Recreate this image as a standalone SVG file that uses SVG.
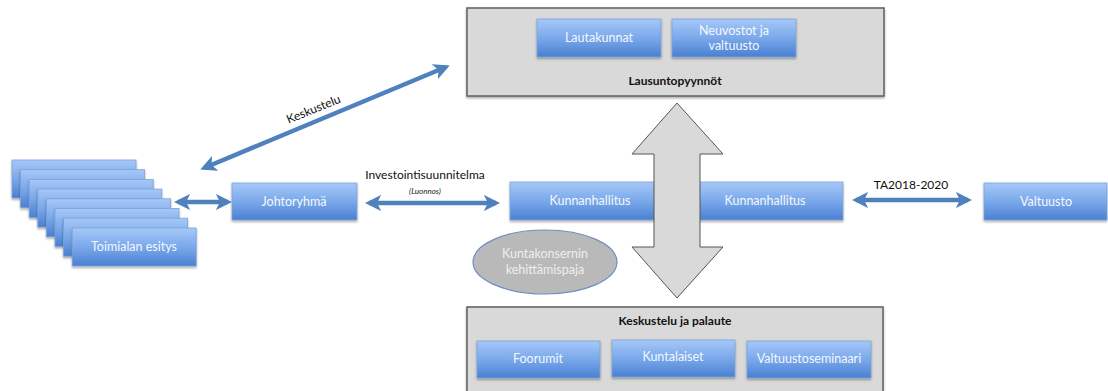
<svg xmlns="http://www.w3.org/2000/svg" width="1108" height="391" viewBox="0 0 1108 391">
<defs>
<linearGradient id="blue" x1="0" y1="0" x2="0" y2="1">
<stop offset="0" stop-color="#a6c8f8"/>
<stop offset="0.5" stop-color="#7aa8ea"/>
<stop offset="1" stop-color="#4a80d2"/>
</linearGradient>
<filter id="sh" x="-10%" y="-10%" width="120%" height="140%">
<feDropShadow dx="0" dy="1.5" stdDeviation="1" flood-color="#000" flood-opacity="0.35"/>
</filter>
<marker id="ah" viewBox="0 0 12 12" refX="9" refY="6" markerWidth="3.6" markerHeight="3.6" orient="auto-start-reverse" markerUnits="strokeWidth">
<path d="M0,0 L12,6 L0,12 L3,6 z" fill="#4f81bd"/>
</marker>
</defs>
<style>
.b{fill:url(#blue);stroke:#7ea3d6;stroke-width:0.8;filter:url(#sh)}
.g{fill:#d9d9d9;stroke:#5f5f5f;stroke-width:1.5;filter:url(#sh)}
.w{font-family:Lato,"Open Sans",sans-serif;font-size:12.5px;fill:#f4f8ff;text-anchor:middle}
.e{font-family:Lato,"Open Sans",sans-serif;font-size:12.5px;fill:#eeeeee;text-anchor:middle}
.k{font-family:Lato,"Open Sans",sans-serif;font-size:12px;fill:#111;text-anchor:middle}
.kb{font-family:Lato,"Open Sans",sans-serif;font-size:12px;font-weight:bold;fill:#111;text-anchor:middle}
.i{font-family:Lato,"Open Sans",sans-serif;font-size:8px;font-style:italic;fill:#222;text-anchor:middle}
.c{fill:none;stroke:#4f81bd;stroke-width:4.5;marker-start:url(#ah);marker-end:url(#ah)}
</style>
<rect width="1108" height="391" fill="#fff"/>

<g id="lausunto">
<rect class="g" x="467" y="8" width="417" height="88"/>
<text class="kb" x="675" y="85">Lausuntopyynnöt</text>
</g>
<g id="lautakunnat">
<rect class="b" x="537" y="19" width="124" height="38"/>
<text class="w" x="599" y="42">Lautakunnat</text>
</g>
<g id="neuvostot">
<rect class="b" x="672" y="19" width="124" height="38"/>
<text class="w" x="734" y="35">Neuvostot ja</text>
<text class="w" x="734" y="50">valtuusto</text>
</g>

<g id="palaute">
<rect class="g" x="467" y="307" width="416" height="95"/>
<text class="kb" x="675" y="325">Keskustelu ja palaute</text>
</g>
<g id="foorumit">
<rect class="b" x="477" y="341" width="123" height="37"/>
<text class="w" x="538" y="363">Foorumit</text>
</g>
<g id="kuntalaiset">
<rect class="b" x="612" y="340" width="123" height="37"/>
<text class="w" x="673" y="361">Kuntalaiset</text>
</g>
<g id="valtuustoseminaari">
<rect class="b" x="747" y="341" width="124" height="37"/>
<text class="w" x="809" y="363">Valtuustoseminaari</text>
</g>

<g id="toimialat">
<rect class="b" x="12" y="160" width="124" height="38"/>
<rect class="b" x="20.6" y="169.7" width="124" height="38"/>
<rect class="b" x="29.2" y="179.4" width="124" height="38"/>
<rect class="b" x="37.8" y="189.1" width="124" height="38"/>
<rect class="b" x="46.4" y="198.8" width="124" height="38"/>
<rect class="b" x="55" y="208.5" width="124" height="38"/>
<rect class="b" x="63.6" y="218.2" width="124" height="38"/>
<rect class="b" x="72.2" y="228" width="124" height="38"/>
<text class="w" x="134" y="251">Toimialan esitys</text>
</g>

<g id="johtoryhma">
<rect class="b" x="232" y="183" width="125" height="37"/>
<text class="w" x="294" y="206">Johtoryhmä</text>
</g>

<g id="kunnanhallitus1">
<rect class="b" x="510" y="182" width="160" height="38"/>
<text class="w" x="590" y="205">Kunnanhallitus</text>
</g>
<g id="kunnanhallitus2">
<rect class="b" x="686" y="182" width="157" height="38"/>
<text class="w" x="765" y="205">Kunnanhallitus</text>
</g>

<g id="valtuusto">
<rect class="b" x="984" y="183" width="123" height="37"/>
<text class="w" x="1046" y="206">Valtuusto</text>
</g>

<g id="paja">
<ellipse cx="545" cy="262" rx="72" ry="32" fill="#b9b9b9" stroke="#6f8fc0" stroke-width="1.2"/>
<text class="e" x="545" y="258">Kuntakonsernin</text>
<text class="e" x="545" y="274">kehittämispaja</text>
</g>

<g id="connectors">
<path d="M677,103 L723,154 L700,154 L700,247 L723,247 L677,298 L632,247 L654,247 L654,154 L632,154 Z" fill="#d9d9d9" stroke="#555" stroke-width="1"/>
<line class="c" x1="178" y1="202" x2="228" y2="202"/>
<line class="c" x1="369" y1="203" x2="496" y2="203"/>
<line class="c" x1="856" y1="200" x2="968" y2="200"/>
<line class="c" x1="204" y1="168" x2="446" y2="67"/>
<text class="k" x="425" y="179">Investointisuunnitelma</text>
<text class="i" x="425" y="194">(Luonnos)</text>
<text class="k" x="911" y="189">TA2018-2020</text>
<text class="k" transform="translate(315,113) rotate(-22)">Keskustelu</text>
</g>
</svg>
